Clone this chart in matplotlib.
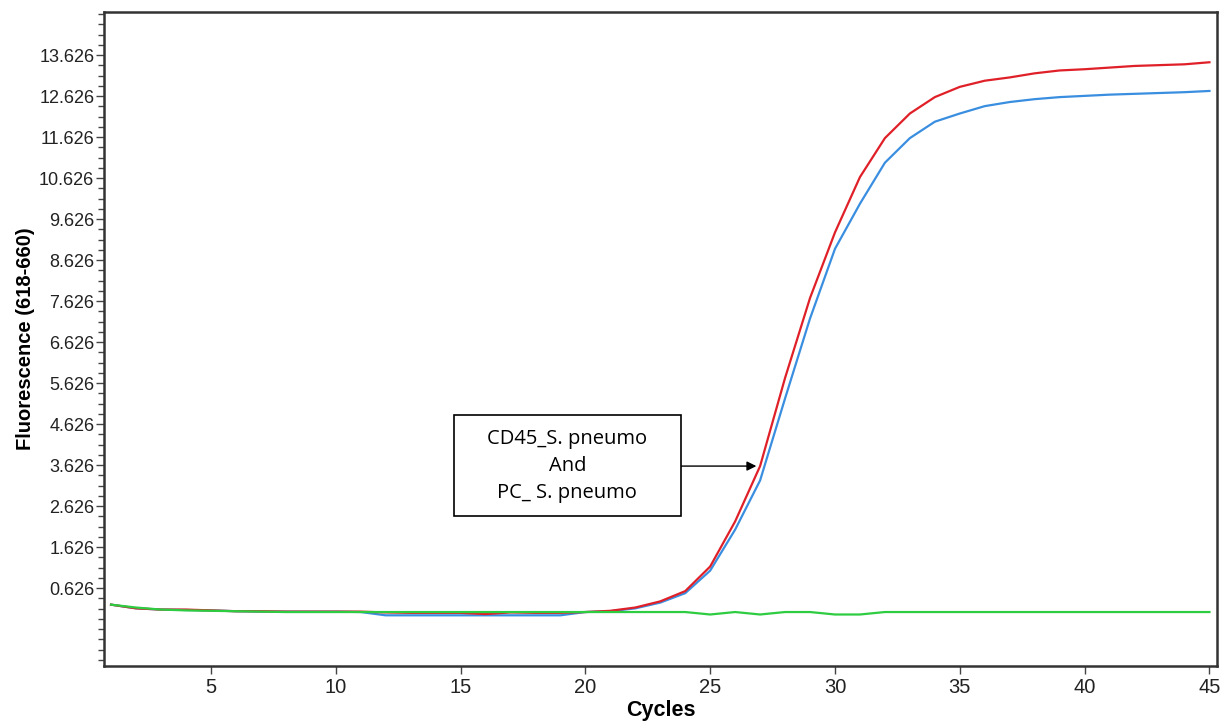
import numpy as np
import matplotlib.pyplot as plt
from matplotlib import font_manager
from matplotlib.patches import Rectangle
from matplotlib.ticker import FixedLocator, MultipleLocator

# amplification data (cycles 1..45)
cycles = list(range(1, 46))
red_vals = [0.22, 0.13, 0.10, 0.10, 0.08, 0.06, 0.06, 0.05, 0.05, 0.05,
            0.05, 0.03, 0.02, 0.02, 0.02, -0.01, 0.03, 0.02, 0.02, 0.04,
            0.07, 0.15, 0.30, 0.55, 1.15, 2.25, 3.60, 5.75, 7.70, 9.30,
            10.65, 11.60, 12.20, 12.60, 12.85, 13.00, 13.08, 13.18, 13.25, 13.28,
            13.32, 13.36, 13.38, 13.40, 13.45]
blue_vals = [0.22, 0.13, 0.10, 0.09, 0.08, 0.06, 0.05, 0.05, 0.05, 0.05,
             0.04, -0.04, -0.04, -0.04, -0.04, -0.04, -0.04, -0.04, -0.04, 0.04,
             0.06, 0.13, 0.27, 0.50, 1.05, 2.05, 3.25, 5.25, 7.20, 8.90,
             10.00, 11.00, 11.60, 12.00, 12.20, 12.38, 12.48, 12.55, 12.60, 12.63,
             12.66, 12.68, 12.70, 12.72, 12.75]
green_vals = [0.22, 0.15, 0.10, 0.08, 0.07, 0.06, 0.05, 0.04, 0.04, 0.04,
              0.04, 0.04, 0.04, 0.04, 0.04, 0.04, 0.04, 0.04, 0.04, 0.04,
              0.04, 0.04, 0.04, 0.04, -0.02, 0.04, -0.02, 0.04, 0.04, -0.02,
              -0.02, 0.04, 0.04, 0.04, 0.04, 0.04, 0.04, 0.04, 0.04, 0.04,
              0.04, 0.04, 0.04, 0.04, 0.04]

ytick_labels = ['0.626', '1.626', '2.626', '3.626', '4.626', '5.626', '6.626',
                '7.626', '8.626', '9.626', '10.626', '11.626', '12.626', '13.626']
xticks = [5, 10, 15, 20, 25, 30, 35, 40, 45]

installed = {f.name for f in font_manager.fontManager.ttflist}
if 'Liberation Sans Narrow' in installed:
    narrow = 'Liberation Sans Narrow'
    ysize, xsize = 14, 16
else:
    narrow = 'Liberation Sans'
    ysize, xsize = 13, 14.5

fig = plt.figure(figsize=(12.27, 7.25), dpi=100)
ax = fig.add_axes([0.0848, 0.0814, 0.907, 0.902])

ax.plot(cycles, blue_vals, color='#3a8ee0', lw=1.6)
ax.plot(cycles, red_vals, color='#e02028', lw=1.6)
ax.plot(cycles, green_vals, color='#2ecc40', lw=1.6)

ax.set_xlim(0.72, 45.3)
ax.set_ylim(-1.276, 14.675)

yt = [float(s) for s in ytick_labels]
ax.yaxis.set_major_locator(FixedLocator(yt))
ax.set_yticklabels(ytick_labels)
ax.yaxis.set_minor_locator(MultipleLocator(0.25, offset=0.126))
ax.set_xticks(xticks)

ax.tick_params(axis='both', labelfontfamily=narrow, labelcolor='#222222')
ax.tick_params(axis='y', which='major', labelsize=ysize, length=6, width=1, color='#444444', pad=1)
ax.tick_params(axis='y', which='minor', length=4, width=1, color='#444444')
ax.tick_params(axis='x', which='major', labelsize=xsize, length=6, width=1, color='#444444', pad=3)
for sp in ax.spines.values():
    sp.set_linewidth(1.8)
    sp.set_color('#333333')

ax.set_xlabel('Cycles', family=narrow, fontsize=15.5, fontweight='bold', labelpad=2)
ax.set_ylabel('Fluorescence (618-660)', family='Liberation Sans',
              fontsize=14.5, fontweight='bold', labelpad=3)

# annotation box + arrow
ax.add_patch(Rectangle((14.72, 2.38), 23.84 - 14.72, 4.846 - 2.38,
                       fc='white', ec='black', lw=1.2, zorder=5))
ax.text(19.28, 3.6, 'CD45_S. pneumo\nAnd\nPC_ S. pneumo', ha='center', va='center',
        fontsize=14.5, family=['Open Sans', 'DejaVu Sans'], linespacing=1.45, zorder=6)
ax.annotate('', xy=(26.85, 3.6), xytext=(23.84, 3.6),
            arrowprops=dict(arrowstyle='-|>', color='black', lw=1, mutation_scale=14,
                            shrinkA=0, shrinkB=0))

fig.savefig('out.png', dpi=100)
